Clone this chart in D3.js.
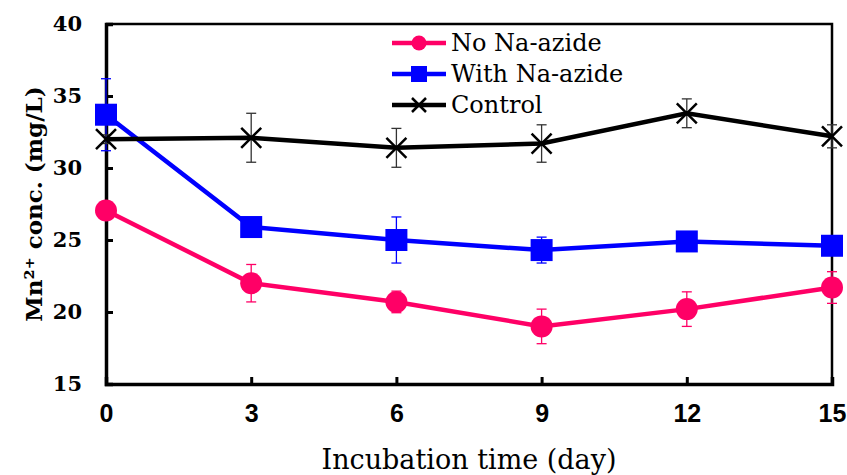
<!DOCTYPE html>
<html>
<head>
<meta charset="utf-8">
<script src="https://cdn.jsdelivr.net/npm/d3@7"></script>
<style>
  body { margin: 0; background: #fff; }
  svg { display: block; }
</style>
</head>
<body>
<svg></svg>
<script>
const width = 847;
const height = 475;

const days = [0, 3, 6, 9, 12, 15];
const noAzide = [27.05, 22.0, 20.7, 19.0, 20.2, 21.7];
const noAzideErr = [0, 1.3, 0.75, 1.2, 1.2, 1.1];
const withAzide = [33.7, 25.9, 25.0, 24.3, 24.9, 24.6];
const withAzideErr = [2.5, 0.3, 1.6, 0.9, 0.3, 0.3];
const control = [32.0, 32.1, 31.4, 31.7, 33.8, 32.2];
const controlErr = [0.3, 1.7, 1.35, 1.3, 1.0, 0.8];
const yTicks = [15, 20, 25, 30, 35, 40];

const series = [
    { name: 'No Na-azide', values: noAzide, err: noAzideErr, color: '#ff0066', marker: 'circle' },
    { name: 'With Na-azide', values: withAzide, err: withAzideErr, color: '#0000ff', marker: 'square' },
    { name: 'Control', values: control, err: controlErr, color: '#000000', marker: 'cross' }
];

const margin = { top: 24, right: 15, bottom: 91, left: 106 };
const svg = d3.select('svg').attr('width', width).attr('height', height);

const x = d3.scaleLinear().domain([0, 15]).range([margin.left, width - margin.right]);
const y = d3.scaleLinear().domain([15, 40]).range([height - margin.bottom, margin.top]);

const serif = "'DejaVu Serif', 'Liberation Serif', serif";

// frame: top and right lines
svg.append('path')
    .attr('d', `M${x(0)},${y(40)}H${x(15)}V${y(15)}`)
    .attr('fill', 'none').attr('stroke', '#000').attr('stroke-width', 2.5);

// y axis
const yAxis = svg.append('g')
    .attr('transform', `translate(${x(0)},0)`)
    .call(d3.axisLeft(y).tickValues(yTicks).tickSize(-7).tickPadding(24));
yAxis.select('.domain').attr('stroke-width', 3.5);
yAxis.selectAll('.tick line').attr('stroke-width', 3);
yAxis.selectAll('.tick text')
    .style('font-family', serif)
    .style('font-weight', 'bold')
    .style('font-size', '21px');

// x axis
const xAxis = svg.append('g')
    .attr('transform', `translate(0,${y(15)})`)
    .call(d3.axisBottom(x).tickValues(days).tickSize(-7).tickPadding(20));
xAxis.select('.domain').attr('stroke-width', 3.5);
xAxis.selectAll('.tick line').attr('stroke-width', 3);
xAxis.selectAll('.tick text')
    .style('font-family', "'Liberation Sans', sans-serif")
    .style('font-weight', 'bold')
    .style('font-size', '25px');

// axis titles
svg.append('text')
    .attr('x', (x(0) + x(15)) / 2).attr('y', 469)
    .attr('text-anchor', 'middle')
    .style('font-family', serif)
    .style('font-size', '27px')
    .text('Incubation time (day)');

svg.append('text')
    .attr('transform', `translate(42,${(y(15) + y(40)) / 2}) rotate(-90)`)
    .attr('text-anchor', 'middle')
    .style('font-family', serif)
    .style('font-weight', 'bold')
    .style('font-size', '23px')
    .text('Mn²⁺ conc. (mg/L)');

const line = d3.line().x((d, i) => x(days[i])).y(d => y(d));

function drawMarker(g, type, color) {
    if (type === 'circle') {
        g.append('circle').attr('r', 11).attr('fill', color);
    } else if (type === 'square') {
        g.append('rect').attr('x', -11).attr('y', -11).attr('width', 22).attr('height', 22).attr('fill', color);
    } else {
        g.append('path').attr('d', 'M-10,-10L10,10M-10,10L10,-10')
            .attr('stroke', color).attr('stroke-width', 2.5);
    }
}

series.forEach(s => {
    const g = svg.append('g');
    // error bars
    s.values.forEach((v, i) => {
        if (!s.err[i]) return;
        const cx = x(days[i]);
        const eb = g.append('g').attr('stroke', s.color === '#000000' ? '#333' : s.color).attr('stroke-width', 1.3);
        eb.append('line').attr('x1', cx).attr('x2', cx).attr('y1', y(v - s.err[i])).attr('y2', y(v + s.err[i]));
        eb.append('line').attr('x1', cx - 5).attr('x2', cx + 5).attr('y1', y(v - s.err[i])).attr('y2', y(v - s.err[i]));
        eb.append('line').attr('x1', cx - 5).attr('x2', cx + 5).attr('y1', y(v + s.err[i])).attr('y2', y(v + s.err[i]));
    });
    g.append('path').datum(s.values)
        .attr('d', line)
        .attr('fill', 'none')
        .attr('stroke', s.color)
        .attr('stroke-width', 4.5);
    s.values.forEach((v, i) => {
        drawMarker(g.append('g').attr('transform', `translate(${x(days[i])},${y(v)})`), s.marker, s.color);
    });
});

// legend
const legend = svg.append('g').attr('transform', 'translate(392,43)');
series.forEach((s, i) => {
    const row = legend.append('g').attr('transform', `translate(0,${i * 31})`);
    row.append('line').attr('x1', 0).attr('x2', 54)
        .attr('stroke', s.color).attr('stroke-width', 4.5);
    const m = row.append('g').attr('transform', 'translate(27,0)');
    if (s.marker === 'circle') m.append('circle').attr('r', 7.5).attr('fill', s.color);
    else if (s.marker === 'square') m.append('rect').attr('x', -8).attr('y', -8).attr('width', 16).attr('height', 16).attr('fill', s.color);
    else m.append('path').attr('d', 'M-7,-7L7,7M-7,7L7,-7').attr('stroke', s.color).attr('stroke-width', 2.5);
    row.append('text').attr('x', 59).attr('y', 8)
        .style('font-family', serif)
        .style('font-size', '24px')
        .text(s.name);
});
</script>
</body>
</html>
